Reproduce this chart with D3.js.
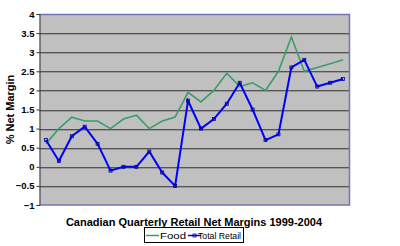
<!DOCTYPE html>
<html>
<head>
<meta charset="utf-8">
<script src="https://cdn.jsdelivr.net/npm/d3@7"></script>
<style>
  body { margin: 0; background: #fff; }
  svg { display: block; font-family: Arial, "Liberation Sans", sans-serif; }
</style>
</head>
<body>
<svg id="chart" width="400" height="246"></svg>
<script>
// quarters 1999 Q1 .. 2004 Q4
const quarters = [];
for (let y = 1999; y <= 2004; y++) for (let q = 1; q <= 4; q++) quarters.push(y + 'Q' + q);

const food = [0.6, 1.0, 1.3, 1.2, 1.2, 1.0, 1.25, 1.35, 1.0, 1.2, 1.3, 1.95,
              1.7, 2.0, 2.45, 2.1, 2.2, 2.0, 2.5, 3.4, 2.5, 2.6, 2.7, 2.8];
const totalRetail = [0.7, 0.15, 0.8, 1.05, 0.6, -0.1, 0.0, 0.0, 0.4, -0.15, -0.5, 1.73,
                     1.0, 1.25, 1.65, 2.2, 1.5, 0.7, 0.85, 2.6, 2.8, 2.1, 2.2, 2.3];
const yTicks = [-1, -0.5, 0, 0.5, 1, 1.5, 2, 2.5, 3, 3.5, 4];

const series = [
    { name: 'Food', values: food, color: '#3c9c6c', marker: false },
    { name: 'Total Retail', values: totalRetail, color: '#0000ff', marker: true }
];

const plot = { left: 39.5, top: 14, right: 349.5, bottom: 205 };
const svg = d3.select('#chart');

const x = d3.scaleBand().domain(quarters).range([plot.left, plot.right]);
const y = d3.scaleLinear().domain([-1, 4]).range([plot.bottom, plot.top]);
const cx = d => x(d) + x.bandwidth() / 2;

// plot background
svg.append('rect')
    .attr('x', plot.left).attr('y', plot.top)
    .attr('width', plot.right - plot.left).attr('height', plot.bottom - plot.top)
    .attr('fill', '#c0c0c0');

// grid lines (dark line with a lighter shadow under it)
const gridTicks = yTicks.filter(t => t > -1 && t < 4);
svg.selectAll('line.grid')
    .data(gridTicks)
    .enter().append('line')
    .attr('x1', plot.left).attr('x2', plot.right)
    .attr('y1', d => Math.round(y(d)) + 0.5).attr('y2', d => Math.round(y(d)) + 0.5)
    .attr('stroke', '#555').attr('stroke-width', 1);
svg.selectAll('line.grid2')
    .data(gridTicks)
    .enter().append('line')
    .attr('x1', plot.left).attr('x2', plot.right)
    .attr('y1', d => Math.round(y(d)) + 1.5).attr('y2', d => Math.round(y(d)) + 1.5)
    .attr('stroke', '#999').attr('stroke-width', 1);

// plot border (top, right, bottom)
svg.append('path')
    .attr('d', `M${plot.left},${plot.top + 0.5}H${plot.right}V${plot.bottom}H${plot.left}`)
    .attr('fill', 'none').attr('stroke', '#7474b8').attr('stroke-width', 1.5);

// y axis
const yAxis = svg.append('g')
    .attr('transform', `translate(${plot.left},0)`)
    .call(d3.axisLeft(y).tickValues(yTicks).tickSize(3).tickPadding(2).tickFormat(d3.format('')));
yAxis.select('.domain').attr('stroke', '#333');
yAxis.selectAll('.tick line').attr('stroke', '#333');
yAxis.selectAll('text')
    .attr('font-size', 9.5).attr('font-weight', 'bold').attr('fill', '#000')
    .attr('font-family', 'Arial, "Liberation Sans", sans-serif');

// lines
const line = d3.line().x((d, i) => cx(quarters[i])).y(d => y(d));
series.forEach(s => {
    svg.append('path')
        .datum(s.values)
        .attr('d', line)
        .attr('fill', 'none')
        .attr('stroke', s.color)
        .attr('stroke-width', s.marker ? 2 : 1.6);
    if (s.marker) {
        svg.selectAll(null)
            .data(s.values)
            .enter().append('rect')
            .attr('x', (d, i) => cx(quarters[i]) - 1.5)
            .attr('y', d => y(d) - 1.5)
            .attr('width', 3).attr('height', 3)
            .attr('fill', 'none').attr('stroke', '#000080').attr('stroke-width', 0.8);
    }
});

// y label
svg.append('text')
    .attr('transform', `translate(14,${(plot.top + plot.bottom) / 2}) rotate(-90)`)
    .attr('text-anchor', 'middle')
    .attr('font-size', 11).attr('font-weight', 'bold')
    .text('% Net Margin');

// title
svg.append('text')
    .attr('x', 194).attr('y', 226)
    .attr('text-anchor', 'middle')
    .attr('font-size', 11).attr('font-weight', 'bold')
    .text('Canadian Quarterly Retail Net Margins 1999-2004');

// legend
const lg = svg.append('g').attr('transform', 'translate(144,227)');
lg.append('rect')
    .attr('x', 0.5).attr('y', 0.5).attr('width', 99).attr('height', 15)
    .attr('fill', '#fff').attr('stroke', '#000').attr('stroke-width', 1);
const items = [
    { s: series[0], x: 2, tx: 16, tw: 26 },
    { s: series[1], x: 44, tx: 54, tw: 43 }
];
items.forEach(it => {
    lg.append('line')
        .attr('x1', it.x).attr('x2', it.x + 13).attr('y1', 8.5).attr('y2', 8.5)
        .attr('stroke', it.s.color).attr('stroke-width', 1.5);
    if (it.s.marker) {
        lg.append('rect').attr('x', it.x + 5).attr('y', 7).attr('width', 3).attr('height', 3)
            .attr('fill', 'none').attr('stroke', '#000080').attr('stroke-width', 0.8);
    }
    lg.append('text')
        .attr('x', it.tx).attr('y', 12)
        .attr('font-size', 9).attr('fill', '#000')
        .attr('textLength', it.tw).attr('lengthAdjust', 'spacingAndGlyphs')
        .text(it.s.name);
});
</script>
</body>
</html>
